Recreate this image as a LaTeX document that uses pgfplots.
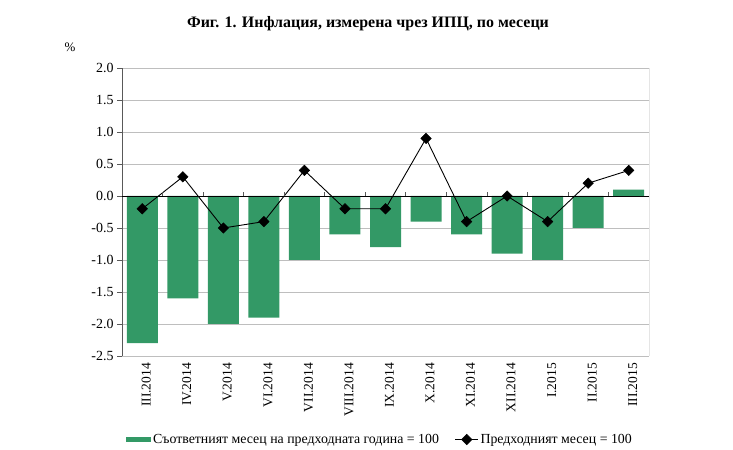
\documentclass[border=0pt]{standalone}
\usepackage{pgfplots}
\pgfplotsset{compat=1.18}
\usepackage{fontspec}
\setmainfont{Liberation Serif}
\definecolor{bargreen}{RGB}{51,153,102}
\definecolor{gridgray}{RGB}{190,190,190}
\begin{document}
\begin{tikzpicture}
\begin{axis}[
  at={(122bp,94bp)}, anchor=south west,
  scale only axis, width=527bp, height=288bp,
  xmin=-0.5, xmax=12.5, ymin=-2.5, ymax=2.0,
  xtick={0,...,12},
  xticklabels={III.2014,IV.2014,V.2014,VI.2014,VII.2014,VIII.2014,IX.2014,X.2014,XI.2014,XII.2014,I.2015,II.2015,III.2015},
  xticklabel style={rotate=90, anchor=east, font=\fontsize{13.5}{15}\selectfont, inner sep=2bp, yshift=-4bp},
  x tick style={draw=none},
  ytick={-2.5,-2,...,2},
  ytick pos=left,
  yticklabel style={font=\fontsize{14}{16}\selectfont},
  /pgf/number format/assume math mode=true,
  yticklabel={\pgfmathprintnumber[fixed,fixed zerofill,precision=1]{\tick}},
  y tick style={draw=gray!70!black},
  tick align=outside, major tick length=5bp,
  ymajorgrids, grid style={gridgray, line width=0.8pt},
  axis line style={draw=none},
  legend columns=2,
  legend style={at={(0.489,-0.29)}, anchor=center, draw=none, fill=none,
    font=\fontsize{13.9}{15}\selectfont, /tikz/every even column/.append style={column sep=14bp}},
]
\addplot[ybar, bar width=31bp, fill=bargreen, draw=none, bar shift=0pt,
  legend image code/.code={\fill[bargreen] (-0.15cm,-0.1cm) rectangle (0.75cm,0.1cm);}]
  coordinates {(0,-2.3) (1,-1.6) (2,-2.0) (3,-1.9) (4,-1.0) (5,-0.6) (6,-0.8) (7,-0.4) (8,-0.6) (9,-0.9) (10,-1.0) (11,-0.5) (12,0.1)};
\addlegendentry{Съответният месец на предходната година = 100}
\addplot[black, line width=0.9pt, mark=square*, mark size=3.7bp, mark options={fill=black, rotate=45, line width=0.5pt},
  legend image code/.code={\draw[black, line width=0.9pt, mark=square*, mark size=3.7bp, mark options={fill=black, rotate=45, line width=0.5pt}, mark repeat=2, mark phase=2] plot coordinates {(0cm,0cm) (0.4cm,0cm) (0.8cm,0cm)};}]
  coordinates {(0,-0.2) (1,0.3) (2,-0.5) (3,-0.4) (4,0.4) (5,-0.2) (6,-0.2) (7,0.9) (8,-0.4) (9,0.0) (10,-0.4) (11,0.2) (12,0.4)};
\addlegendentry{Предходният месец = 100}
\draw[gray!70!black, line width=0.8pt] (rel axis cs:0,0) -- (rel axis cs:0,1);
\draw[black!80, line width=0.8pt] (rel axis cs:1,0) -- (rel axis cs:1,1);
\draw[black, line width=0.8pt] (axis cs:-0.5,0) -- (axis cs:12.5,0);
\pgfplotsinvokeforeach{0.5,1.5,...,11.5}{\draw[gray!70!black, line width=0.6pt] (axis cs:#1,0) -- ([yshift=4bp]axis cs:#1,0);}
\end{axis}
\node[font=\bfseries\fontsize{16}{18}\selectfont] at (368bp,426bp) {Фиг. 1. Инфлация, измерена чрез ИПЦ, по месеци};
\node[font=\fontsize{13}{15}\selectfont] at (70bp,403bp) {\%};
\pgfresetboundingbox
\path[use as bounding box] (0,0) rectangle (733bp,450bp);
\end{tikzpicture}
\end{document}
